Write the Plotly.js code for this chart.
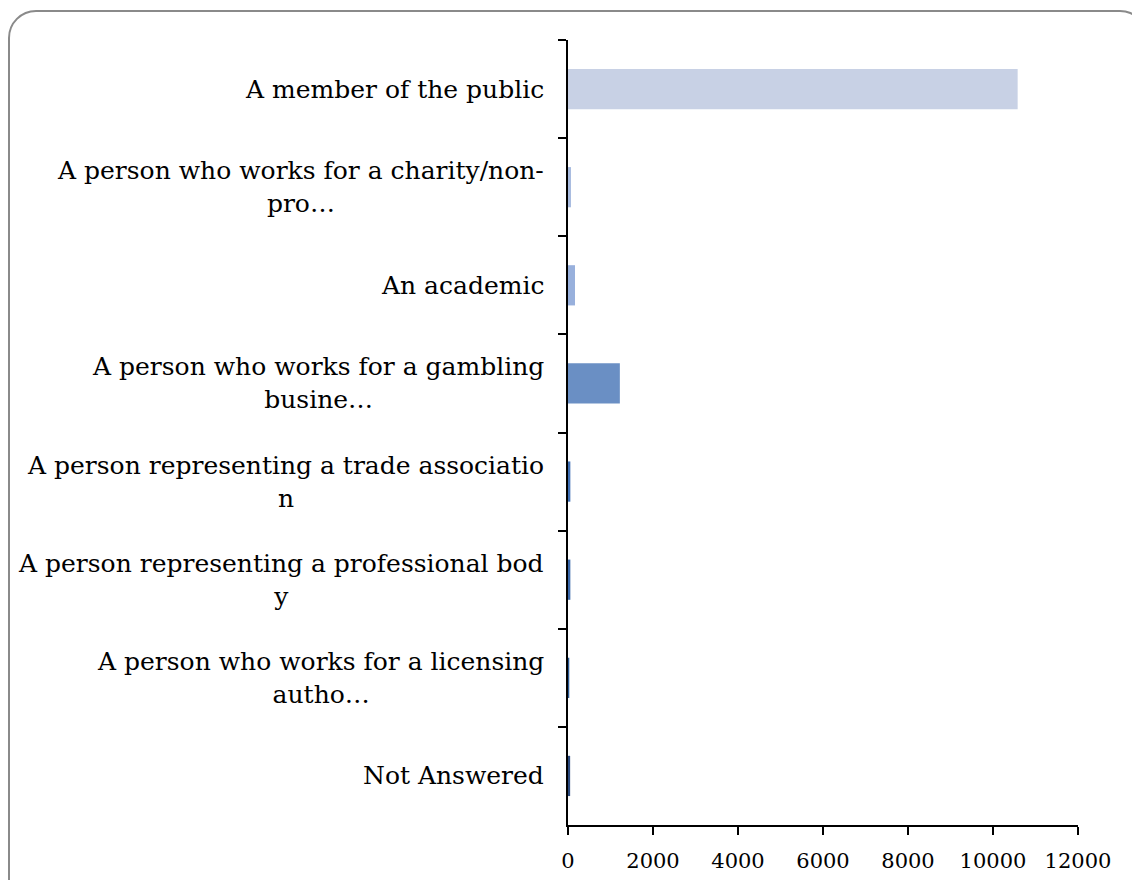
<!DOCTYPE html>
<html>
<head>
<meta charset="utf-8">
<script src="https://cdn.plot.ly/plotly-3.0.1.min.js"></script>
<style>
  html, body { margin: 0; padding: 0; background: #fff; overflow: hidden; }
  #frame { position: absolute; left: 8px; top: 10px; width: 1140px; height: 900px;
           border: 2px solid #8a8a8a; border-radius: 28px; box-sizing: border-box; }
  #chart { position: absolute; left: 0; top: 0; width: 1132px; height: 880px; }
</style>
</head>
<body>
<div id="frame"></div>
<div id="chart"></div>
<script>
// Data
const categories = [
  "A member of the public",
  "A person who works for a charity/non-<br>pro…",
  "An academic",
  "A person who works for a gambling<br>busine…",
  "A person representing a trade associatio<br>n",
  "A person representing a professional bod<br>y",
  "A person who works for a licensing<br>autho…",
  "Not Answered"
];
const categoryKeys = ["c0","c1","c2","c3","c4","c5","c6","c7"];
const values = [10580, 70, 165, 1220, 55, 55, 30, 50];
const barColors = ["#c8d1e5", "#a9bce0", "#98b0dc", "#6a8fc4", "#3f6fb5", "#3a68aa", "#2a5a95", "#2b4a7e"];
const xTicks = [0, 2000, 4000, 6000, 8000, 10000, 12000];

const fontFamily = "DejaVu Serif, Liberation Serif, serif";

const trace = {
  type: "bar",
  orientation: "h",
  y: categoryKeys,
  x: values,
  width: 0.41,
  marker: { color: barColors, line: { width: 0 } },
  hoverinfo: "x"
};

const annotations = categories.map((c, i) => ({
  xref: "paper", yref: "y",
  x: 0, y: categoryKeys[i],
  xanchor: "right", yanchor: "middle",
  xshift: -22,
  text: c, showarrow: false, align: "center",
  font: { family: fontFamily, size: 25, color: "#000" }
}));

const layout = {
  width: 1132, height: 880,
  margin: { l: 568, r: 54, t: 40, b: 55, pad: 0 },
  paper_bgcolor: "rgba(0,0,0,0)",
  plot_bgcolor: "rgba(0,0,0,0)",
  showlegend: false,
  xaxis: {
    range: [0, 12000],
    tickvals: xTicks,
    ticktext: xTicks.map(String),
    showgrid: false, zeroline: false,
    showline: true, linecolor: "#000", linewidth: 2,
    ticks: "outside", ticklen: 8, tickwidth: 2, tickcolor: "#000",
    ticklabelstandoff: 8,
    tickfont: { family: fontFamily, size: 21, color: "#000" },
    fixedrange: true
  },
  yaxis: {
    type: "category",
    categoryorder: "array",
    categoryarray: categoryKeys,
    range: [7.5, -0.5],
    showticklabels: false,
    tickson: "boundaries",
    showgrid: false, zeroline: false,
    showline: true, linecolor: "#000", linewidth: 2,
    ticks: "outside", ticklen: 8, tickwidth: 2, tickcolor: "#000",
    fixedrange: true
  },
  annotations: annotations
};

Plotly.newPlot("chart", [trace], layout, { displayModeBar: false, staticPlot: true });
</script>
</body>
</html>
